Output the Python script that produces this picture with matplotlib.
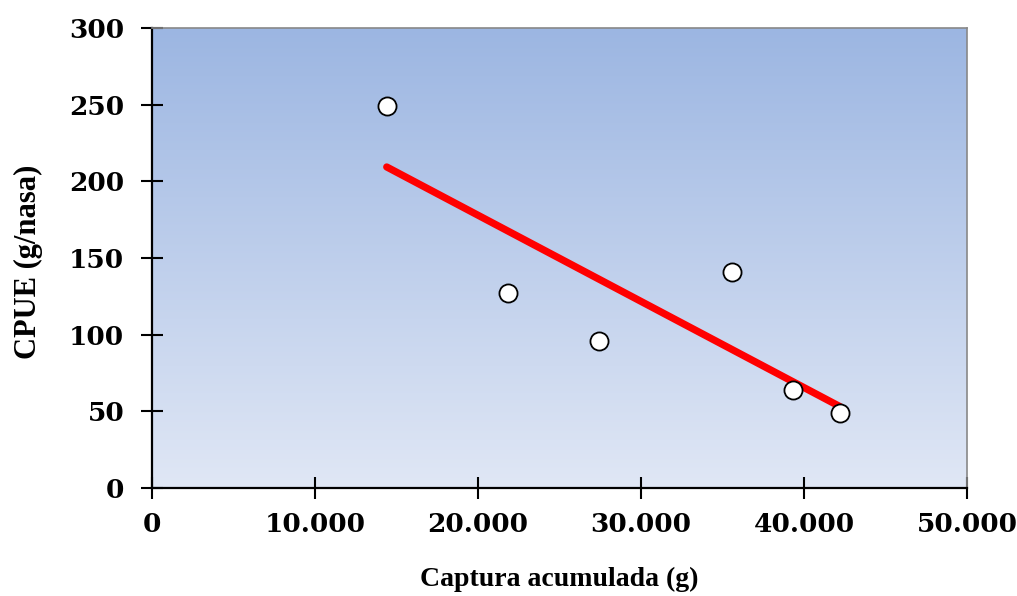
import numpy as np
import matplotlib
matplotlib.use("Agg")
import matplotlib.pyplot as plt
from matplotlib.colors import LinearSegmentedColormap

# Data
captura = [14400, 21850, 27400, 35600, 39300, 42200]
cpue = [249, 127, 96, 141, 64, 49]

x_ticks = [0, 10000, 20000, 30000, 40000, 50000]
x_ticklabels = ["0", "10.000", "20.000", "30.000", "40.000", "50.000"]
y_ticks = [0, 50, 100, 150, 200, 250, 300]

plt.rcParams['font.family'] = ['DejaVu Serif']
plt.rcParams['font.weight'] = 'bold'

fig = plt.figure(figsize=(10.17, 5.96), dpi=100)
ax = fig.add_axes([152/1017, 1 - 488/596, (967-152)/1017, (488-28)/596])

# gradient background
cmap = LinearSegmentedColormap.from_list("bg", ["#e0e7f5", "#9cb6e2"])
grad = np.linspace(0, 1, 256).reshape(-1, 1)
ax.imshow(grad, aspect='auto', cmap=cmap, origin='lower',
          extent=[0, 1, 0, 1], transform=ax.transAxes, zorder=0)

# linear trend line
coef = np.polyfit(captura, cpue, 1)
xl = np.array([min(captura), max(captura)])
ax.plot(xl, np.polyval(coef, xl), color='#ff0000', lw=5.2,
        solid_capstyle='round', zorder=2)

ax.scatter(captura, cpue, s=170, facecolor='white', edgecolor='black',
           linewidth=1.3, zorder=3)

ax.set_xlim(0, 50000)
ax.set_ylim(0, 300)
ax.set_xticks(x_ticks)
ax.set_xticklabels(x_ticklabels)
ax.set_yticks(y_ticks)

for s in ['top', 'right']:
    ax.spines[s].set_color('#888888')
    ax.spines[s].set_linewidth(1.2)
for s in ['left', 'bottom']:
    ax.spines[s].set_color('black')
    ax.spines[s].set_linewidth(1.6)

ax.tick_params(axis='both', direction='inout', length=16, width=1.5,
               labelsize=19, colors='black')
ax.tick_params(axis='y', pad=12)
ax.tick_params(axis='x', pad=9)
for lab in ax.get_xticklabels() + ax.get_yticklabels():
    lab.set_fontweight('bold')

ax.set_xlabel("Captura acumulada (g)", fontsize=20, fontweight='bold',
              family=['Liberation Serif', 'DejaVu Serif'])
ax.set_ylabel("CPUE (g/nasa)", fontsize=22, fontweight='bold',
              family=['Liberation Serif', 'DejaVu Serif'])
ax.xaxis.label.set_va('center')
ax.xaxis.set_label_coords(0.5, (488 - 579) / 460)
ax.yaxis.label.set_va('center')
ax.yaxis.label.set_ha('center')
ax.yaxis.set_label_coords((28 - 152) / 815, (488 - 262) / 460)

fig.savefig("out.png", dpi=100)
